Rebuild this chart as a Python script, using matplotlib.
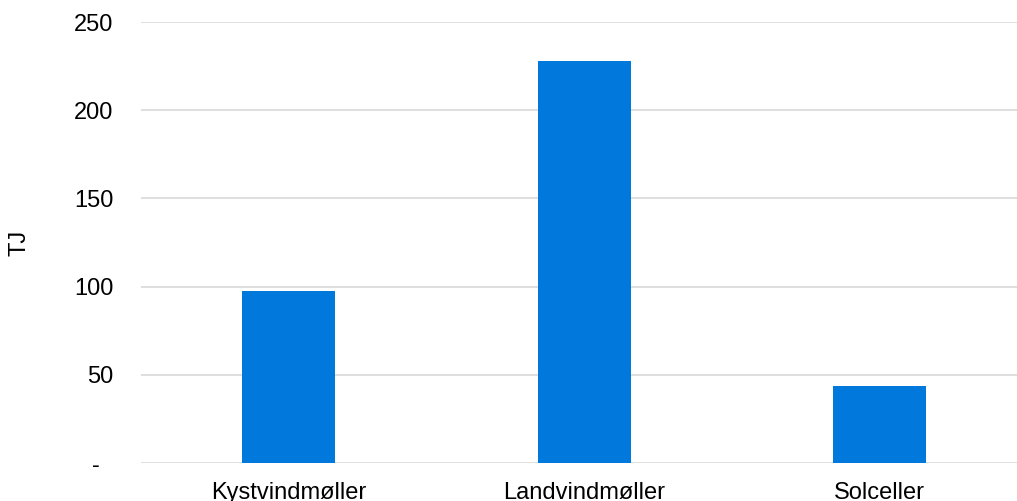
import matplotlib
matplotlib.use("Agg")
import matplotlib.pyplot as plt

# data
categories = ["Kystvindmøller", "Landvindmøller", "Solceller"]
values_tj = [97.5, 227.8, 43.8]
yticks = [0, 50, 100, 150, 200, 250]
ytick_labels = ["-  ", "50", "100", "150", "200", "250"]

plt.rcParams["font.family"] = ["Liberation Sans", "DejaVu Sans"]

fig = plt.figure(figsize=(10.17, 5.01), dpi=100)
# axes run past the right edge, as in the cropped reference
ax = fig.add_axes([0.1389, 0.0758, 0.8712, 0.8802])

x = range(len(categories))
ax.bar(x, values_tj, width=0.315, color="#0078DC", zorder=3)

ax.set_xlim(-0.5, len(categories) - 0.5)
ax.set_ylim(0, 250)
ax.set_yticks(yticks)
ax.set_yticklabels(ytick_labels)
ax.set_xticks(list(x))
ax.set_xticklabels(categories)

ax.grid(axis="y", color="#D9D9D9", lw=1.2, zorder=0)
for s in ax.spines.values():
    s.set_visible(False)
ax.tick_params(axis="both", length=0, labelsize=17, colors="black")
ax.tick_params(axis="y", pad=20)
ax.tick_params(axis="x", pad=14)

ax.set_ylabel("TJ", fontsize=17)
ax.yaxis.set_label_coords(-0.125, 0.5)

fig.savefig("out.png", dpi=100)
